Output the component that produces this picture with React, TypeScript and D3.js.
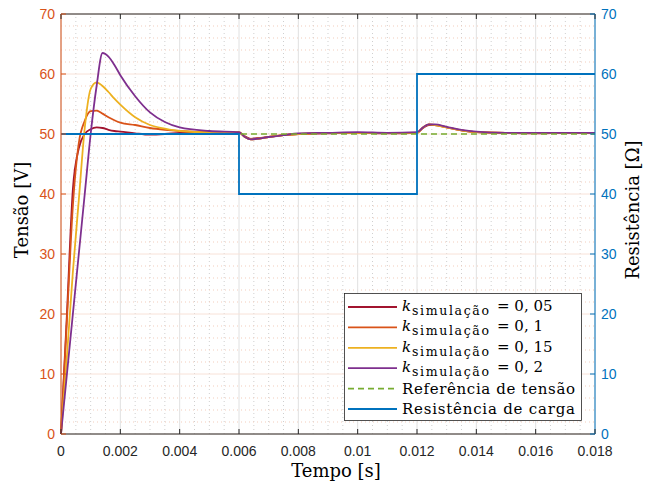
import React, { useEffect, useRef } from "react";
import * as d3 from "d3";

// time axis shared by the four simulated voltages
const time = [
  0, 0.0002, 0.0004, 0.0006, 0.0008, 0.001, 0.0012, 0.0014, 0.0016, 0.0018,
  0.002, 0.0025, 0.003, 0.0035, 0.004, 0.005, 0.006, 0.0062, 0.0064, 0.0066,
  0.007, 0.0075, 0.008, 0.009, 0.01, 0.011, 0.012, 0.0122, 0.0124, 0.0126,
  0.013, 0.0135, 0.014, 0.015, 0.016, 0.017, 0.018,
];

const vK005 = [
  0, 20, 40.8, 47.6, 50.0, 50.8, 51.1, 51.0, 50.7, 50.5,
  50.4, 50.1, 49.9, 50.0, 50.2, 50.3, 50.2, 49.6, 49.2, 49.3,
  49.5, 49.8, 50.0, 50.1, 50.2, 50.1, 50.2, 51.0, 51.5, 51.5,
  51.1, 50.6, 50.3, 50.2, 50.1, 50.2, 50.2,
];
const vK01 = [
  0, 19, 38, 48.5, 52.2, 53.8, 53.9, 53.4, 52.8, 52.3,
  51.9, 51.5, 51.0, 50.7, 50.5, 50.3, 50.3, 49.5, 49.1, 49.2,
  49.5, 49.8, 50.0, 50.2, 50.2, 50.2, 50.2, 51.1, 51.6, 51.5,
  51.1, 50.6, 50.3, 50.2, 50.2, 50.2, 50.2,
];
const vK015 = [
  0, 13, 27, 39, 51, 57.5, 58.6, 58.0, 57.0, 55.9,
  54.9, 52.8, 51.5, 50.9, 50.5, 50.3, 50.3, 49.5, 49.1, 49.2,
  49.5, 49.8, 50.0, 50.2, 50.2, 50.2, 50.2, 51.1, 51.6, 51.5,
  51.1, 50.6, 50.3, 50.2, 50.2, 50.2, 50.2,
];
const vK02 = [
  0, 10, 20, 30, 40, 50, 58, 63.5, 62.9, 61.5,
  59.8, 56.3, 53.6, 52.0, 51.1, 50.5, 50.3, 49.5, 49.1, 49.2,
  49.5, 49.8, 50.1, 50.2, 50.3, 50.2, 50.3, 51.1, 51.6, 51.6,
  51.2, 50.7, 50.4, 50.2, 50.2, 50.2, 50.2,
];

const refTime = [0, 0.018];
const refValues = [50, 50];

const resTime = [0, 0.006, 0.012, 0.018];
const resValues = [50, 40, 60, 60];

const xTicks = [0, 0.002, 0.004, 0.006, 0.008, 0.01, 0.012, 0.014, 0.016, 0.018];
const xTickLabels = ["0", "0.002", "0.004", "0.006", "0.008", "0.01", "0.012", "0.014", "0.016", "0.018"];
const yTicks = [0, 10, 20, 30, 40, 50, 60, 70];

const kLabels = ["0, 05", "0, 1", "0, 15", "0, 2"];

const series = [
  { values: vK005, color: "#A2142F" },
  { values: vK01, color: "#D95319" },
  { values: vK015, color: "#EDB120" },
  { values: vK02, color: "#7E2F8E" },
];

const W = 647;
const H = 488;
const margin = { top: 14, right: 52, bottom: 54, left: 61 };

const ORANGE = "#D95319";
const BLUE = "#0072BD";
const GREEN = "#77AC30";
const DARK = "#262626";
const SERIF = "'DejaVu Serif', serif";
const SANS = "'Liberation Sans', Arial, sans-serif";

export default function App() {
  const ref = useRef<SVGSVGElement>(null);

  useEffect(() => {
    const svg = d3.select(ref.current);
    svg.selectAll("*").remove();

    const x0 = margin.left;
    const x1 = W - margin.right;
    const y0 = H - margin.bottom;
    const y1 = margin.top;

    const x = d3.scaleLinear().domain([0, 0.018]).range([x0, x1]);
    const yL = d3.scaleLinear().domain([0, 70]).range([y0, y1]);
    const yR = d3.scaleLinear().domain([0, 70]).range([y0, y1]);

    svg.append("rect").attr("width", W).attr("height", H).attr("fill", "#fff");

    const grid = svg.append("g");
    // minor grid
    const xMinor = d3.range(0, 0.01801, 0.0005).filter((v) => Math.abs(v / 0.002 - Math.round(v / 0.002)) > 1e-6);
    grid.selectAll(".xm").data(xMinor).enter().append("line")
      .attr("x1", (d) => x(d)).attr("x2", (d) => x(d))
      .attr("y1", y0).attr("y2", y1)
      .attr("stroke", "#cfcfcf").attr("stroke-width", 1).attr("stroke-dasharray", "1,3");
    const yMinor = d3.range(0, 70.01, 2).filter((v) => v % 10 !== 0);
    grid.selectAll(".ym").data(yMinor).enter().append("line")
      .attr("x1", x0).attr("x2", x1)
      .attr("y1", (d) => yL(d)).attr("y2", (d) => yL(d))
      .attr("stroke", "#f3cdbc").attr("stroke-width", 1).attr("stroke-dasharray", "1,3");
    // major grid
    grid.selectAll(".xg").data(xTicks).enter().append("line")
      .attr("x1", (d) => x(d)).attr("x2", (d) => x(d))
      .attr("y1", y0).attr("y2", y1)
      .attr("stroke", "#e0e0e0").attr("stroke-width", 1);
    grid.selectAll(".yg").data(yTicks).enter().append("line")
      .attr("x1", x0).attr("x2", x1)
      .attr("y1", (d) => yL(d)).attr("y2", (d) => yL(d))
      .attr("stroke", "#f8e2d8").attr("stroke-width", 1);

    // voltage curves
    const line = d3.line<number>()
      .x((_, i) => x(time[i]))
      .y((d) => yL(d))
      .curve(d3.curveMonotoneX);
    series.forEach((s) => {
      svg.append("path").attr("d", line(s.values))
        .attr("fill", "none").attr("stroke", s.color).attr("stroke-width", 1.8);
    });

    // reference
    const refLine = d3.line<number>().x((_, i) => x(refTime[i])).y((d) => yL(d));
    svg.append("path").attr("d", refLine(refValues))
      .attr("fill", "none").attr("stroke", GREEN).attr("stroke-width", 1.6)
      .attr("stroke-dasharray", "6,4");

    // load resistance
    const resLine = d3.line<number>().x((_, i) => x(resTime[i])).y((d) => yR(d)).curve(d3.curveStepAfter);
    svg.append("path").attr("d", resLine(resValues))
      .attr("fill", "none").attr("stroke", BLUE).attr("stroke-width", 1.8);

    // axes box
    const ax = svg.append("g");
    ax.append("line").attr("x1", x0).attr("x2", x1).attr("y1", y0).attr("y2", y0).attr("stroke", DARK);
    ax.append("line").attr("x1", x0).attr("x2", x1).attr("y1", y1).attr("y2", y1).attr("stroke", DARK);
    ax.append("line").attr("x1", x0).attr("x2", x0).attr("y1", y0).attr("y2", y1).attr("stroke", ORANGE);
    ax.append("line").attr("x1", x1).attr("x2", x1).attr("y1", y0).attr("y2", y1).attr("stroke", BLUE);

    // ticks
    xTicks.forEach((t, i) => {
      ax.append("line").attr("x1", x(t)).attr("x2", x(t)).attr("y1", y0).attr("y2", y0 - 5).attr("stroke", DARK);
      ax.append("line").attr("x1", x(t)).attr("x2", x(t)).attr("y1", y1).attr("y2", y1 + 5).attr("stroke", DARK);
      ax.append("text").attr("x", x(t)).attr("y", y0 + 22)
        .attr("text-anchor", "middle").attr("font-family", SANS).attr("font-size", 14)
        .attr("fill", DARK).text(xTickLabels[i]);
    });
    yTicks.forEach((t) => {
      ax.append("line").attr("x1", x0).attr("x2", x0 + 5).attr("y1", yL(t)).attr("y2", yL(t)).attr("stroke", ORANGE);
      ax.append("text").attr("x", x0 - 6).attr("y", yL(t)).attr("dy", "0.36em")
        .attr("text-anchor", "end").attr("font-family", SANS).attr("font-size", 14)
        .attr("fill", ORANGE).text(t);
      ax.append("line").attr("x1", x1).attr("x2", x1 - 5).attr("y1", yR(t)).attr("y2", yR(t)).attr("stroke", BLUE);
      ax.append("text").attr("x", x1 + 6).attr("y", yR(t)).attr("dy", "0.36em")
        .attr("text-anchor", "start").attr("font-family", SANS).attr("font-size", 14)
        .attr("fill", BLUE).text(t);
    });

    // axis labels
    svg.append("text").attr("x", 336).attr("y", 477).attr("text-anchor", "middle")
      .attr("font-family", SERIF).attr("font-size", 18).attr("fill", "#000").text("Tempo [s]");
    svg.append("text").attr("transform", "translate(28,210) rotate(-90)").attr("text-anchor", "middle")
      .attr("font-family", SERIF).attr("font-size", 18).attr("fill", "#000").text("Tensão [V]");
    svg.append("text").attr("transform", "translate(639,210) rotate(-90)").attr("text-anchor", "middle")
      .attr("font-family", SERIF).attr("font-size", 18).attr("fill", "#000").text("Resistência [Ω]");

    // legend
    const lg = svg.append("g");
    lg.append("rect").attr("x", 344.5).attr("y", 293.5).attr("width", 237).attr("height", 127)
      .attr("fill", "#fff").attr("stroke", DARK).attr("stroke-width", 0.8);
    const rowY = (i: number) => 307 + i * 20.4;
    series.forEach((s, i) => {
      const yy = rowY(i);
      lg.append("line").attr("x1", 348).attr("x2", 397).attr("y1", yy).attr("y2", yy)
        .attr("stroke", s.color).attr("stroke-width", 1.8);
      lg.append("text").attr("x", 402).attr("y", yy + 4).attr("font-family", SERIF)
        .attr("font-style", "italic").attr("font-size", 15).text("k");
      lg.append("text").attr("x", 412).attr("y", yy + 8).attr("font-family", SERIF)
        .attr("font-size", 12.5).attr("textLength", 77).text("simulação");
      lg.append("text").attr("x", 497).attr("y", yy + 4).attr("font-family", SERIF)
        .attr("font-size", 15).text("= " + kLabels[i]);
    });
    const y4 = rowY(4);
    lg.append("line").attr("x1", 348).attr("x2", 397).attr("y1", y4).attr("y2", y4)
      .attr("stroke", GREEN).attr("stroke-width", 1.6).attr("stroke-dasharray", "6,4");
    lg.append("text").attr("x", 402).attr("y", y4 + 5).attr("font-family", SERIF)
      .attr("font-size", 15).attr("textLength", 173).text("Referência de tensão");
    const y5 = rowY(5);
    lg.append("line").attr("x1", 348).attr("x2", 397).attr("y1", y5).attr("y2", y5)
      .attr("stroke", BLUE).attr("stroke-width", 1.8);
    lg.append("text").attr("x", 402).attr("y", y5 + 5).attr("font-family", SERIF)
      .attr("font-size", 15).attr("textLength", 173).text("Resistência de carga");
  }, []);

  return (
    <svg ref={ref} width={W} height={H} style={{ position: "absolute", left: 0, top: 0 }} />
  );
}
